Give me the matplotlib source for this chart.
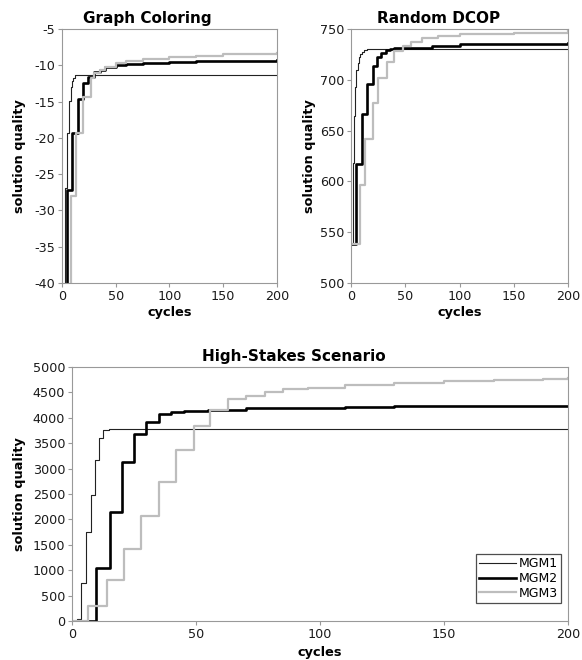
import matplotlib.pyplot as plt

# Graph Coloring (step curves: cycle where value changes, value after change)
gc_mgm1_x = [0, 2.8, 4.7, 6.5, 8, 9, 10.5, 12, 200]
gc_mgm1_y = [-45, -26.9, -19.3, -14.9, -13.0, -12.2, -11.7, -11.4, -11.4]
gc_mgm2_x = [0, 4.7, 9.5, 14.5, 19.5, 24.5, 29.5, 35, 40, 50, 60, 75, 100, 125, 150, 175, 200]
gc_mgm2_y = [-45, -27.2, -19.3, -14.7, -12.5, -11.6, -10.9, -10.6, -10.3, -10.0, -9.8, -9.65, -9.5, -9.45, -9.4, -9.35, -9.3]
gc_mgm3_x = [0, 8, 13, 20, 27, 30, 35, 40, 50, 60, 75, 100, 125, 150, 175, 200]
gc_mgm3_y = [-45, -28, -19.3, -14.3, -11.8, -11.0, -10.6, -10.2, -9.7, -9.4, -9.15, -8.9, -8.7, -8.5, -8.4, -8.3]

# Random DCOP
rd_mgm1_x = [0, 2, 3, 4, 5, 6, 7, 8, 10, 12, 15, 200]
rd_mgm1_y = [538, 618, 664, 693, 710, 717, 722, 725, 727, 729, 730, 730]
rd_mgm2_x = [0, 5, 10, 15, 20, 24, 28, 32, 36, 40, 50, 75, 100, 150, 200]
rd_mgm2_y = [538, 617, 666, 696, 714, 722, 726, 729, 730, 731, 731, 733, 735, 735.5, 736]
rd_mgm3_x = [0, 8, 13, 20, 25, 33, 40, 48, 55, 65, 80, 100, 150, 200]
rd_mgm3_y = [538, 596, 642, 677, 702, 718, 728, 733, 737, 741, 743, 745, 746.5, 748]

# High-Stakes Scenario
hs_mgm1_x = [0, 2, 3.5, 5.6, 7.5, 9.4, 10.9, 12.6, 14.8, 200]
hs_mgm1_y = [0, 30, 748, 1758, 2480, 3170, 3608, 3760, 3780, 3780]
hs_mgm2_x = [0, 9.7, 15.3, 20.2, 25, 29.8, 35, 40, 45, 55, 70, 90, 110, 130, 160, 200]
hs_mgm2_y = [0, 1037, 2152, 3124, 3681, 3924, 4075, 4120, 4130, 4154, 4187, 4200, 4215, 4225, 4232, 4235]
hs_mgm3_x = [0, 6.6, 14, 21, 28, 35, 42, 49, 55.6, 62.8, 70, 78, 85, 95, 110, 130, 150, 170, 190, 200]
hs_mgm3_y = [0, 302, 807, 1411, 2073, 2742, 3366, 3839, 4154, 4364, 4435, 4514, 4560, 4590, 4640, 4690, 4720, 4750, 4770, 4783]

series_names = ["MGM1", "MGM2", "MGM3"]
styles = [dict(color="#222222", lw=0.8),
          dict(color="#000000", lw=1.9),
          dict(color="#bdbdbd", lw=1.6)]

plt.rcParams['font.family'] = ['DejaVu Sans']
plt.rcParams['axes.unicode_minus'] = False
fig = plt.figure(figsize=(5.82, 6.6), dpi=100)


def style_axes(ax, title, title_x, ylim, yticks, ylab_x):
    ax.set_xlim(0, 200)
    ax.set_ylim(*ylim)
    ax.set_xticks([0, 50, 100, 150, 200])
    ax.set_yticks(yticks)
    for s in ax.spines.values():
        s.set_color("#999999")
        s.set_linewidth(0.8)
    ax.tick_params(direction="out", length=3, width=0.8, color="#999999",
                   labelsize=9.2, labelcolor="#1a1a1a", pad=2)
    ax.set_title(title, fontsize=11, fontweight="bold", x=title_x, pad=4)
    ax.set_ylabel("solution quality", fontsize=9.3, fontweight="bold")
    ax.yaxis.set_label_coords(ylab_x, 0.5)
    ax.set_xlabel("cycles", fontsize=9.3, fontweight="bold")


def draw(ax, xs, ys):
    lines = []
    for x, y, st, name in zip(xs, ys, styles, series_names):
        ln, = ax.step(x, y, where="post", label=name, **st)
        lines.append(ln)
    return lines


ax1 = fig.add_axes([0.1065, 0.5712, 0.3694, 0.3848])
draw(ax1, [gc_mgm1_x, gc_mgm2_x, gc_mgm3_x], [gc_mgm1_y, gc_mgm2_y, gc_mgm3_y])
style_axes(ax1, "Graph Coloring", 0.395, (-40, -5), range(-40, -4, 5), -0.167)
ax1.xaxis.set_label_coords(0.5, -0.09)

ax2 = fig.add_axes([0.6031, 0.5712, 0.3729, 0.3848])
draw(ax2, [rd_mgm1_x, rd_mgm2_x, rd_mgm3_x], [rd_mgm1_y, rd_mgm2_y, rd_mgm3_y])
style_axes(ax2, "Random DCOP", 0.405, (500, 750), range(500, 751, 50), -0.161)
ax2.xaxis.set_label_coords(0.5, -0.09)

ax3 = fig.add_axes([0.1237, 0.0591, 0.8522, 0.3848])
draw(ax3, [hs_mgm1_x, hs_mgm2_x, hs_mgm3_x], [hs_mgm1_y, hs_mgm2_y, hs_mgm3_y])
style_axes(ax3, "High-Stakes Scenario", 0.447, (0, 5000), range(0, 5001, 500), -0.093)
ax3.xaxis.set_label_coords(0.5, -0.098)
leg = ax3.legend(loc="lower right", bbox_to_anchor=(0.986, 0.071), fontsize=9,
                 frameon=True, fancybox=False, edgecolor="#222222",
                 handlelength=3.0, handletextpad=0.2, borderpad=0.25,
                 labelspacing=0.15, borderaxespad=0)
leg.get_frame().set_linewidth(0.9)

plt.savefig("out.png", dpi=100)
